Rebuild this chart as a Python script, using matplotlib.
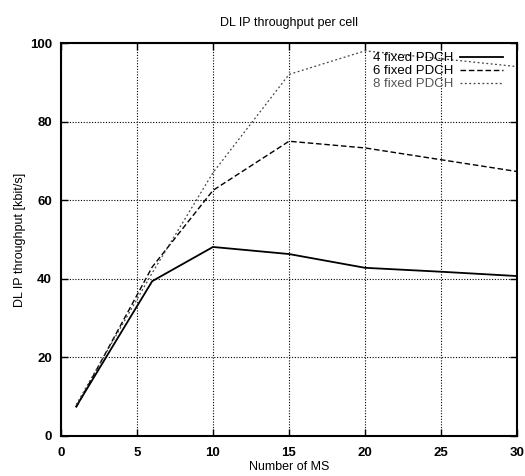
import matplotlib
matplotlib.use("Agg")
import matplotlib.pyplot as plt

plt.rcParams['font.family'] = ['Liberation Sans', 'DejaVu Sans']

ms = [1, 6, 10, 15, 20, 25, 30]
pdch4 = [7.5, 39.4, 48.1, 46.3, 42.8, 41.8, 40.7]
pdch6 = [7.3, 43.0, 62.5, 75.0, 73.3, 70.3, 67.3]
pdch8 = [8.0, 41.5, 67.0, 92.0, 98.0, 96.0, 94.0]
labels = ["4 fixed PDCH", "6 fixed PDCH", "8 fixed PDCH"]
xticks = [0, 5, 10, 15, 20, 25, 30]
yticks = [0, 20, 40, 60, 80, 100]

fig = plt.figure(figsize=(5.25, 4.76), dpi=100)
ax = fig.add_axes([61/525, 1-436/476, (517-61)/525, (436-43)/476])

l1, = ax.plot(ms, pdch4, color='black', lw=1.3, ls='-')
l2, = ax.plot(ms, pdch6, color='black', lw=1.0, ls=(0, (4, 2)))
l3, = ax.plot(ms, pdch8, color='#444444', lw=0.9, ls=(0, (1.5, 2)))

ax.set_xlim(0, 30)
ax.set_ylim(0, 100)
ax.set_xticks(xticks)
ax.set_yticks(yticks)
ax.grid(True, color='black', ls=(0, (1, 1.5)), lw=0.8)
for s in ax.spines.values():
    s.set_linewidth(1.5)
ax.tick_params(direction='in', length=5, width=1, top=True, right=True,
               labelsize=9.5)
ax.tick_params(axis='x', pad=8)
ax.tick_params(axis='y', pad=6.5)
for t in ax.get_xticklabels() + ax.get_yticklabels():
    t.set_fontweight('bold')

ax.set_title("DL IP throughput per cell", fontsize=9, pad=12)
ax.set_xlabel("Number of MS", fontsize=9, labelpad=1)
ax.set_ylabel("DL IP throughput [kbit/s]", fontsize=9, labelpad=3)

leg = ax.legend([l1, l2, l3], labels, loc='upper right', frameon=False,
                bbox_to_anchor=(0.98, 0.99), borderaxespad=0,
                markerfirst=False, fontsize=9.5, handlelength=3.2,
                labelspacing=0.05, handletextpad=0.55)
for i, t in enumerate(leg.get_texts()):
    t.set_ha('right')
    if i < 2:
        t.set_color('black')
    else:
        t.set_color('#555555')

fig.savefig("out.png", dpi=100)
